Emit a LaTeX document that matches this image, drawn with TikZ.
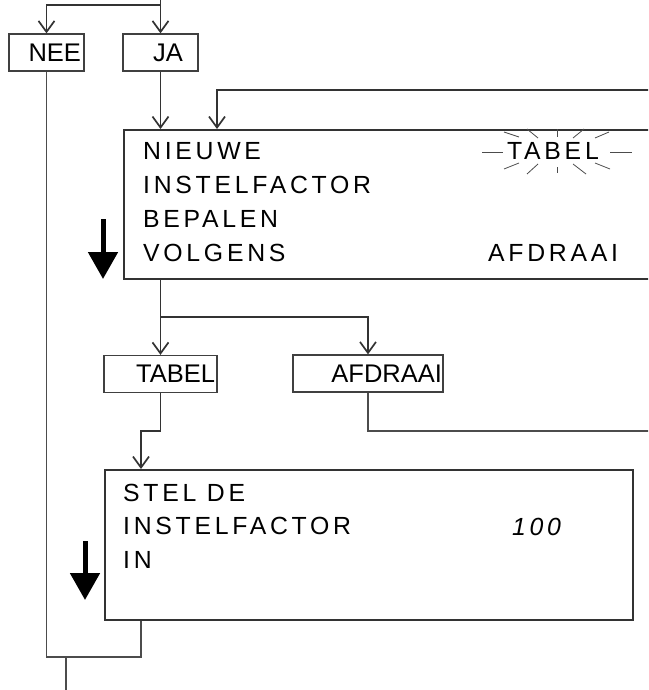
\documentclass[tikz,border=0pt]{standalone}
\usepackage{fontspec}
\setmainfont{Liberation Sans}
\newfontfamily\lcdfont[LetterSpace=15]{Liberation Sans}
\usetikzlibrary{arrows.meta}
\tikzset{
  flow/.style={draw=black!80, line width=1.2pt, -{Straight Barb[length=11pt,width=16pt,line width=1.7pt]}},
  wire/.style={draw=black!70, line width=1.2pt},
  keybox/.style={draw=black!75, line width=1.3pt, minimum height=37pt, inner ysep=0pt, align=right, font=\fontsize{25.5}{30}\selectfont},
  display/.style={draw=black!80, line width=1.6pt, anchor=north west, inner sep=0pt},
  lcd/.style={anchor=base west, inner sep=0pt, font=\lcdfont\fontsize{24.8}{34}\selectfont},
  scroll/.style={line width=5pt, -{Triangle[length=27pt,width=29pt]}},
  ray/.style={draw=black!70, line width=0.8pt}
}
\begin{document}
\begin{tikzpicture}[x=1pt,y=-1pt]
\clip (0,0) rectangle (648,690);
\node[keybox, text width=69pt, inner xsep=3pt] (nee) at (46.5,52.5) {NEE};
\node[keybox, text width=45pt, inner xsep=15pt] (ja) at (160.5,52.5) {JA};
\node[display, minimum width=537pt, minimum height=149pt] (disp1) at (123,129) {};
\foreach \txt/\yy in {NIEUWE/159, INSTELFACTOR/193, BEPALEN/227, VOLGENS/261}
  \node[lcd] (a\yy) at (143,\yy) {\txt};
\node[lcd] (blink) at (507,159) {TABEL};
\node[lcd] (opt1) at (488,261) {AFDRAAI};
\coordinate (flash) at (557,152);
\begin{scope}[shift={(flash)}]
\foreach \xa/\ya/\xb/\yb in {-75/0/-54/0, 53/0/75/0, -53/-20/-38/-15, -30/-23/-19/-14, 0/-23/0/-15, 27/-23/16/-14, 52/-20/38/-14,
  -53/17/-38/11, -30/22/-19/12, 0/15/0/21, 16/12/29/22, 38/11/53/17}
  \draw[ray] (\xa,\ya) -- (\xb,\yb);
\end{scope}
\node[keybox, text width=109pt, inner xsep=2pt] (tabel) at (160.5,374) {TABEL};
\node[keybox, text width=148pt, inner xsep=1pt] (afdraai) at (368,373.5) {AFDRAAI};
\node[display, minimum width=528pt, minimum height=150pt] (disp2) at (104,469) {};
\foreach \txt/\yy in {STEL DE/501, INSTELFACTOR/534, IN/568}
  \node[lcd] (b\yy) at (123,\yy) {\txt};
\node[lcd] (value) at (512,535) {\itshape 100};
\draw[scroll] (103,219) -- (103,279);
\draw[scroll] (85,541) -- (85,600);
\coordinate (top) at (160.5,0);
\coordinate (split1) at (160.5,5);
\draw[flow] (top) -- (ja.north);
\draw[flow] (split1) -| (nee.north);
\draw[flow] (ja.south) -- (ja.south |- disp1.north);
\coordinate (backR) at (660,90);
\coordinate (backin) at (217,90);
\draw[flow] (backR) -- (backin) -- (backin |- disp1.north);
\coordinate (split2) at (160.5,317);
\draw[flow] (split2 |- disp1.south) -- (tabel.north);
\draw[flow] (split2) -| (afdraai.north);
\coordinate (bend3) at (141,431);
\draw[flow] (tabel.south) |- (bend3) -- (bend3 |- disp2.north);
\coordinate (fwdR) at (660,431);
\draw[wire] (afdraai.south) |- (fwdR);
\coordinate (join) at (66,657);
\coordinate (exit) at (66,690);
\draw[wire] (nee.south) |- (join) -| (bend3 |- disp2.south);
\draw[wire] (join) -- (exit);
\end{tikzpicture}
\end{document}
